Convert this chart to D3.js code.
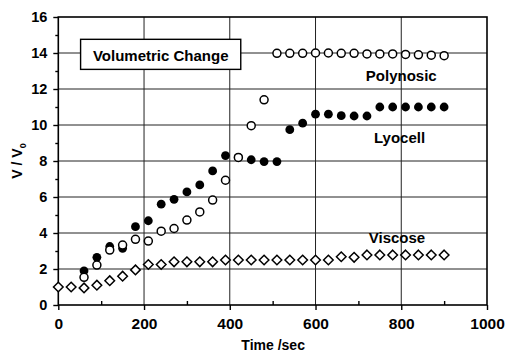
<!DOCTYPE html>
<html>
<head>
<meta charset="utf-8">
<script src="https://cdn.jsdelivr.net/npm/d3@7"></script>
<style>
  body { margin: 0; background: #fff; }
  svg text { font-family: "Liberation Sans", Arial, sans-serif; fill: #000; }
</style>
</head>
<body>
<svg id="chart" width="506" height="353"></svg>
<script>
// time points (s) and V/V0 readings
const viscoseT = d3.range(0, 901, 30);
const viscose = [1.0, 1.0, 0.95, 1.1, 1.35, 1.6, 1.95, 2.25, 2.25, 2.4, 2.4, 2.4, 2.4, 2.5, 2.5, 2.5,
  2.5, 2.5, 2.5, 2.5, 2.5, 2.5, 2.68, 2.65, 2.78, 2.78, 2.78, 2.78, 2.78, 2.78, 2.78];

const lyocellT = d3.range(60, 901, 30);
const lyocell = [1.9, 2.65, 3.25, 3.15, 4.35, 4.68, 5.6, 5.87, 6.28, 6.67, 7.45, 8.3, 8.2, 8.07, 7.97,
  7.97, 9.74, 10.1, 10.6, 10.6, 10.52, 10.5, 10.5, 11.0, 11.0, 11.0, 11.0, 11.0, 11.0];

const polynosicT = d3.range(60, 901, 30);
const polynosic = [1.54, 2.22, 3.05, 3.33, 3.65, 3.55, 4.1, 4.25, 4.72, 5.17, 5.83, 6.93, 8.2, 9.96, 11.4,
  13.98, 13.98, 13.98, 14.0, 14.0, 13.98, 13.98, 13.95, 13.95, 13.95, 13.92, 13.9, 13.88, 13.85];

const xTicks = [0, 200, 400, 600, 800, 1000];
const yTicks = [0, 2, 4, 6, 8, 10, 12, 14, 16];

const svg = d3.select("#chart");
const mLeft = 58.3, mRight = 487, mTop = 17, mBottom = 305;

const x = d3.scaleLinear().domain([0, 1000]).range([mLeft, mRight]);
const y = d3.scaleLinear().domain([0, 16]).range([mBottom, mTop]);

// grid
const grid = svg.append("g").attr("stroke", "#222").attr("stroke-width", 1);
grid.selectAll("line.v").data(xTicks.slice(1, -1)).enter().append("line")
  .attr("x1", d => x(d)).attr("x2", d => x(d)).attr("y1", mTop).attr("y2", mBottom);
grid.selectAll("line.h").data(yTicks.slice(1, -1)).enter().append("line")
  .attr("x1", mLeft).attr("x2", mRight).attr("y1", d => y(d)).attr("y2", d => y(d));

// axes
const xAxis = svg.append("g").attr("transform", "translate(0," + mBottom + ")")
  .call(d3.axisBottom(x).tickValues(xTicks).tickSize(5).tickPadding(6).tickFormat(d3.format("d")));
const xMinor = svg.append("g").attr("transform", "translate(0," + mBottom + ")")
  .call(d3.axisTop(x).tickValues(d3.range(100, 1000, 200)).tickSize(4).tickFormat(""));
const yAxis = svg.append("g").attr("transform", "translate(" + mLeft + ",0)")
  .call(d3.axisLeft(y).tickValues(yTicks).tickSize(5).tickPadding(6));
const yMinor = svg.append("g").attr("transform", "translate(" + mLeft + ",0)")
  .call(d3.axisLeft(y).tickValues(d3.range(1, 16, 2)).tickSize(3).tickFormat(""));

[xAxis, xMinor, yAxis, yMinor].forEach(g => {
  g.select(".domain").remove();
  g.selectAll("line").attr("stroke", "#000").attr("stroke-width", 1.4);
});
xAxis.selectAll("text").attr("font-size", 15.5).attr("font-weight", "bold").attr("dy", "0.85em");
yAxis.selectAll("text").attr("font-size", 14.5).attr("font-weight", "bold");

// frame
svg.append("rect").attr("x", mLeft).attr("y", mTop)
  .attr("width", mRight - mLeft).attr("height", mBottom - mTop)
  .attr("fill", "none").attr("stroke", "#000").attr("stroke-width", 1.6);

// series
const pts = (ts, vs) => ts.map((t, i) => ({ t: t, v: vs[i] }));

svg.append("g").selectAll("path").data(pts(viscoseT, viscose)).enter().append("path")
  .attr("d", d => {
    const cx = x(d.t), cy = y(d.v), s = 4.8;
    return "M" + cx + "," + (cy - s) + "L" + (cx + s) + "," + cy + "L" + cx + "," + (cy + s) + "L" + (cx - s) + "," + cy + "Z";
  })
  .attr("fill", "#fff").attr("stroke", "#000").attr("stroke-width", 1.5);

svg.append("g").selectAll("circle").data(pts(lyocellT, lyocell)).enter().append("circle")
  .attr("cx", d => x(d.t)).attr("cy", d => y(d.v)).attr("r", 4.4)
  .attr("fill", "#000");

svg.append("g").selectAll("circle").data(pts(polynosicT, polynosic)).enter().append("circle")
  .attr("cx", d => x(d.t)).attr("cy", d => y(d.v)).attr("r", 4)
  .attr("fill", "#fff").attr("stroke", "#000").attr("stroke-width", 1.5);

// labels
const labels = [
  { text: "Polynosic", t: 800, v: 12.44 },
  { text: "Lyocell", t: 796, v: 9.0 },
  { text: "Viscose", t: 790, v: 3.46 }
];
svg.append("g").selectAll("text").data(labels).enter().append("text")
  .attr("x", d => x(d.t)).attr("y", d => y(d.v))
  .attr("text-anchor", "middle").attr("font-size", 15).attr("font-weight", "bold").text(d => d.text);

// title box
svg.append("rect").attr("x", x(52)).attr("y", y(14.76))
  .attr("width", x(425.6) - x(52)).attr("height", y(13.09) - y(14.76))
  .attr("fill", "#fff").attr("stroke", "#000").attr("stroke-width", 1.4);
svg.append("text").attr("x", x(239)).attr("y", y(13.58))
  .attr("text-anchor", "middle").attr("font-size", 15).attr("font-weight", "bold").text("Volumetric Change");

// axis titles
svg.append("text").attr("x", (mLeft + mRight) / 2 + 0.5).attr("y", 350)
  .attr("text-anchor", "middle").attr("font-size", 14).attr("font-weight", "bold").text("Time /sec");

const yt = svg.append("text").attr("transform", "translate(21.5,161) rotate(-90)")
  .attr("text-anchor", "middle").attr("font-size", 14).attr("font-weight", "bold");
yt.append("tspan").text("V / V");
yt.append("tspan").attr("font-size", 9).attr("dy", 4).text("0");
</script>
</body>
</html>
